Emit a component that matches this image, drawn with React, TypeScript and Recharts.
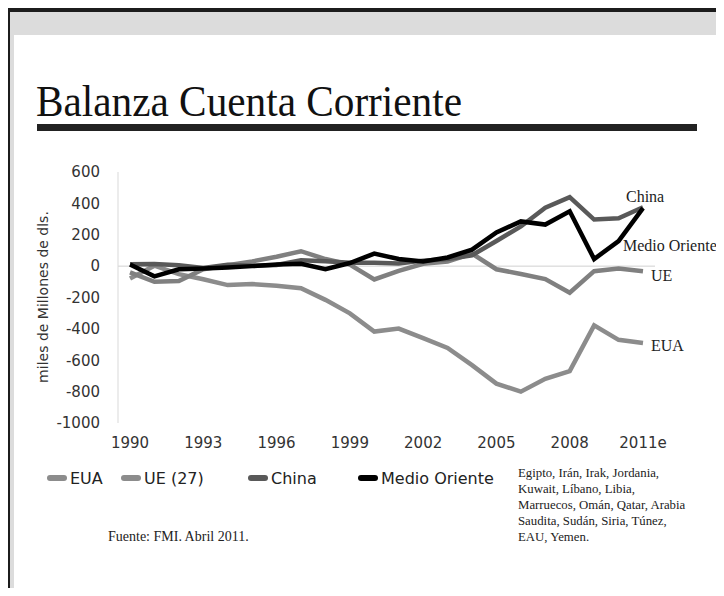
import { LineChart, Line, XAxis, YAxis, ReferenceLine } from "recharts";

const years = [
  "1990", "1991", "1992", "1993", "1994", "1995", "1996", "1997", "1998", "1999", "2000",
  "2001", "2002", "2003", "2004", "2005", "2006", "2007", "2008", "2009", "2010", "2011e",
];
const eua = [-79, 3, -51, -84, -121, -114, -125, -141, -215, -301, -417, -398, -459, -522, -631, -749, -800, -718, -669, -378, -470, -490];
const ue = [-40, -100, -95, -20, 5, 30, 60, 95, 45, 10, -85, -30, 15, 30, 80, -20, -50, -83, -170, -32, -15, -32];
const china = [12, 13, 6, -12, 8, 2, 7, 37, 31, 21, 21, 17, 35, 46, 69, 160, 253, 372, 440, 297, 305, 375];
const medioOriente = [10, -65, -20, -15, -8, 0, 10, 15, -20, 20, 80, 45, 30, 55, 105, 215, 285, 265, 350, 45, 160, 370];
const yTicks = [600, 400, 200, 0, -200, -400, -600, -800, -1000];

const data = years.map((year, i) => ({
  year,
  eua: eua[i],
  ue: ue[i],
  china: china[i],
  mo: medioOriente[i],
}));

const last = years.length - 1;
const sans = "DejaVu Sans";
const serif = "Liberation Serif";

// end-of-line label, only on the last point
const endLabel = (text: string, dx: number, dy: number) => (props: any) => {
  if (props.index !== last) return <g />;
  return (
    <text x={props.x + dx} y={props.y + dy} fontFamily={serif} fontSize={16} fill="#222">
      {text}
    </text>
  );
};

const legendItems = [
  { name: "EUA", color: "#8c8c8c", x: 47 },
  { name: "UE (27)", color: "#8c8c8c", x: 121 },
  { name: "China", color: "#595959", x: 248 },
  { name: "Medio Oriente", color: "#000000", x: 358 },
];

const noteLines = [
  "Egipto, Irán, Irak, Jordania,",
  "Kuwait, Líbano, Libia,",
  "Marruecos, Omán, Qatar, Arabia",
  "Saudita, Sudán, Siria, Túnez,",
  "EAU, Yemen.",
];

export default function App() {
  return (
    <div style={{ position: "relative", width: 724, height: 596, margin: -8, background: "#fff", overflow: "hidden" }}>
      {/* slide frame */}
      <div style={{ position: "absolute", left: 0, top: 8, width: 724, height: 588, background: "#dcdcdc" }} />
      <div style={{ position: "absolute", left: 0, top: 8, width: 724, height: 4, background: "#1c1c1c" }} />
      <div style={{ position: "absolute", left: 0, top: 8, width: 10, height: 588, background: "#1c1c1c" }} />
      <div style={{ position: "absolute", left: 14, top: 35, width: 702, height: 554, background: "#fff" }} />

      <svg width={724} height={596} style={{ position: "absolute", left: 0, top: 0 }}>
        <text x={36} y={116} fontFamily={serif} fontSize={44} fill="#111" textLength={426} lengthAdjust="spacingAndGlyphs">
          Balanza Cuenta Corriente
        </text>
        <rect x={37} y={124} width={660} height={7} fill="#222" />

        {legendItems.map((it) => (
          <g key={it.name}>
            <line x1={it.x + 3} x2={it.x + 17} y1={478} y2={478} stroke={it.color} strokeWidth={6} strokeLinecap="round" />
            <text x={it.x + 23} y={483.5} fontFamily={sans} fontSize={16} fill="#222">
              {it.name}
            </text>
          </g>
        ))}
        {noteLines.map((t, i) => (
          <text key={t} x={518} y={477 + i * 16} fontFamily={serif} fontSize={12.8} fill="#222">
            {t}
          </text>
        ))}
        <text x={108} y={541} fontFamily={serif} fontSize={14} fill="#222">
          Fuente: FMI. Abril 2011.
        </text>
        <text
          transform="translate(48 297) rotate(-90)"
          textAnchor="middle"
          fontFamily={sans}
          fontSize={14}
          fill="#333"
        >
          miles de Millones de dls.
        </text>
      </svg>

      <div style={{ position: "absolute", left: 0, top: 0 }}>
        <LineChart width={724} height={460} data={data} margin={{ top: 172, right: 69, left: 18, bottom: 7 }}>
          <XAxis
            dataKey="year"
            interval={2}
            axisLine={false}
            tickLine={false}
            tickSize={0}
            tickMargin={14}
            height={30}
            padding={{ left: 12, right: 12 }}
            tick={{ fontFamily: sans, fontSize: 15, fill: "#333" }}
          />
          <YAxis
            domain={[-1000, 600]}
            ticks={yTicks}
            interval={0}
            width={100}
            axisLine={{ stroke: "#d9d9d9" }}
            tickLine={false}
            tickSize={0}
            tickMargin={18}
            tick={{ fontFamily: sans, fontSize: 15, fill: "#333" }}
          />
          <ReferenceLine y={0} stroke="#d0d0d0" strokeWidth={1} />
          <Line dataKey="eua" stroke="#8c8c8c" strokeWidth={4.5} dot={false} isAnimationActive={false} label={endLabel("EUA", 8, 8)} />
          <Line dataKey="ue" stroke="#808080" strokeWidth={4.5} dot={false} isAnimationActive={false} label={endLabel("UE", 8, 10)} />
          <Line dataKey="china" stroke="#595959" strokeWidth={4.5} dot={false} isAnimationActive={false} label={endLabel("China", -17, -5)} />
          <Line dataKey="mo" stroke="#000000" strokeWidth={4.5} dot={false} isAnimationActive={false} label={endLabel("Medio Oriente", -20, 43)} />
        </LineChart>
      </div>
    </div>
  );
}
